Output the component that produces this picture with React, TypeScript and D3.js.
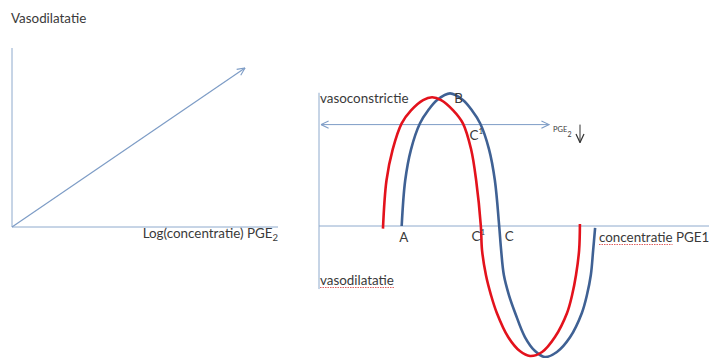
import * as d3 from "d3";
import React, { useEffect, useRef } from "react";

const W = 709;
const H = 358;

// left panel: response vs log(concentration), a straight arrow
const leftLogConc = [0, 0.876];
const leftResponse = [0, 0.888];

// right panel: biphasic response (positive = vasoconstrictie, negative = vasodilatatie)
const redConc = [1.64, 1.73, 1.89, 2.12, 2.36, 2.67, 2.9, 3.13, 3.44, 3.69, 3.9, 4.03, 4.15, 4.18, 4.28, 4.41, 4.56, 4.85, 5.15, 5.41, 5.72, 6.05, 6.36, 6.49, 6.59, 6.67, 6.69];
const redResp = [-0.02, 0.35, 0.59, 0.79, 0.89, 0.969, 0.99, 0.969, 0.89, 0.79, 0.59, 0.35, 0, -0.185, -0.377, -0.531, -0.669, -0.854, -0.962, -1.0, -0.969, -0.854, -0.669, -0.531, -0.377, -0.185, 0.015];
const blueConc = [2.12, 2.21, 2.36, 2.59, 2.8, 3.03, 3.36, 3.69, 3.92, 4.13, 4.36, 4.51, 4.62, 4.67, 4.74, 4.87, 5.03, 5.28, 5.54, 5.79, 6.1, 6.44, 6.74, 6.87, 6.97, 7.03, 7.08];
const blueResp = [0, 0.35, 0.59, 0.79, 0.89, 0.969, 1.02, 0.969, 0.89, 0.79, 0.59, 0.35, 0, -0.185, -0.377, -0.531, -0.669, -0.854, -0.962, -1.008, -0.969, -0.854, -0.669, -0.531, -0.377, -0.185, -0.015];

// horizontal double arrow (PGE2 lowered)
const thresholdLevel = 0.78;
const thresholdEnd = 5.9;

const pointLabels = ["A", "B", "C", "C", "C"];
const pointLabelConc = [2.06, 3.47, 3.86, 3.91, 4.76];
const pointLabelResp = [-0.12, 0.945, 0.66, -0.115, -0.115];
const pointLabelSup = ["", "", "1", "1", ""];

const axisColor = "#8eaacd";
const arrowColor = "#7d9cc6";
const redColor = "#e3121c";
const blueColor = "#3f6194";
const textColor = "#3a3a3a";
const font = "Lato, 'Open Sans', sans-serif";
const fs = 13.4;

export default function App() {
  const svgRef = useRef<SVGSVGElement>(null);

  useEffect(() => {
    const svg = d3.select(svgRef.current);
    svg.selectAll("*").remove();

    const defs = svg.append("defs");
    const addHead = (id: string, color: string, size: number) =>
      defs
        .append("marker")
        .attr("id", id)
        .attr("viewBox", "0 0 10 10")
        .attr("refX", 9.5)
        .attr("refY", 5)
        .attr("markerWidth", size)
        .attr("markerHeight", size)
        .attr("markerUnits", "userSpaceOnUse")
        .attr("orient", "auto-start-reverse")
        .append("path")
        .attr("d", "M1,1 L9.5,5 L1,9")
        .attr("fill", "none")
        .attr("stroke", color)
        .attr("stroke-width", 1.2);
    addHead("headBlue", arrowColor, 9);
    addHead("headDark", "#333", 10);

    // ---------- LEFT PANEL ----------
    const xL = d3.scaleLinear().domain([0, 1]).range([12, 278]);
    const yL = d3.scaleLinear().domain([0, 1]).range([227, 48]);

    svg.append("line")
      .attr("x1", xL(0)).attr("x2", xL(0))
      .attr("y1", yL(0)).attr("y2", yL(1))
      .attr("stroke", axisColor).attr("stroke-width", 1);
    svg.append("line")
      .attr("x1", xL(0)).attr("x2", xL(1))
      .attr("y1", yL(0)).attr("y2", yL(0))
      .attr("stroke", axisColor).attr("stroke-width", 1);

    svg.append("path")
      .datum(d3.range(leftLogConc.length))
      .attr("fill", "none")
      .attr("stroke", arrowColor)
      .attr("stroke-width", 1.2)
      .attr("marker-end", "url(#headBlue)")
      .attr("d", d3.line<number>().x((i) => xL(leftLogConc[i])).y((i) => yL(leftResponse[i])));

    svg.append("text")
      .attr("x", 11).attr("y", 23)
      .attr("font-family", font).attr("font-size", fs)
      .attr("fill", textColor)
      .text("Vasodilatatie");

    const xLab = svg.append("text")
      .attr("x", 278).attr("y", 238)
      .attr("text-anchor", "end")
      .attr("font-family", font).attr("font-size", fs)
      .attr("fill", textColor);
    xLab.append("tspan").text("Log(concentratie) PGE");
    xLab.append("tspan").attr("font-size", 9.5).attr("dy", 3).text("2");

    // ---------- RIGHT PANEL ----------
    const xR = d3.scaleLinear().domain([0, 10]).range([319, 709]);
    const yR = d3.scaleLinear().domain([-1, 1]).range([356, 96]);

    svg.append("line")
      .attr("x1", xR(0)).attr("x2", xR(0))
      .attr("y1", yR(1.025)).attr("y2", yR(-0.485))
      .attr("stroke", axisColor).attr("stroke-width", 1);
    svg.append("line")
      .attr("x1", xR(0)).attr("x2", W)
      .attr("y1", yR(0)).attr("y2", yR(0))
      .attr("stroke", axisColor).attr("stroke-width", 1);

    svg.append("line")
      .attr("x1", xR(0.05)).attr("x2", xR(thresholdEnd))
      .attr("y1", yR(thresholdLevel)).attr("y2", yR(thresholdLevel))
      .attr("stroke", arrowColor).attr("stroke-width", 1)
      .attr("marker-start", "url(#headBlue)")
      .attr("marker-end", "url(#headBlue)");

    const curve = d3.curveCatmullRom.alpha(0.5);
    const drawSeries = (cs: number[], rs: number[], color: string) =>
      svg.append("path")
        .datum(d3.range(cs.length))
        .attr("fill", "none")
        .attr("stroke", color)
        .attr("stroke-width", 2.6)
        .attr("d", d3.line<number>().curve(curve).x((i) => xR(cs[i])).y((i) => yR(rs[i])));
    drawSeries(blueConc, blueResp, blueColor);
    drawSeries(redConc, redResp, redColor);

    pointLabels.forEach((lab, i) => {
      const t = svg.append("text")
        .attr("x", xR(pointLabelConc[i]))
        .attr("y", yR(pointLabelResp[i]))
        .attr("font-family", font).attr("font-size", fs)
        .attr("fill", textColor)
        .text(lab);
      if (pointLabelSup[i]) t.append("tspan").attr("font-size", 8).attr("dy", -6).text(pointLabelSup[i]);
    });

    svg.append("text")
      .attr("x", 320).attr("y", 103)
      .attr("font-family", font).attr("font-size", fs)
      .attr("fill", textColor)
      .text("vasoconstrictie");

    const spell = (x: number, y: number, txt: string) => {
      const t = svg.append("text")
        .attr("x", x).attr("y", y)
        .attr("font-family", font).attr("font-size", fs)
        .attr("fill", textColor);
      const first = t.append("tspan").text(txt.split(" ")[0]);
      if (txt.includes(" ")) t.append("tspan").text(" " + txt.split(" ").slice(1).join(" "));
      const w = (first.node() as SVGTSpanElement).getComputedTextLength();
      svg.append("line")
        .attr("x1", x).attr("x2", x + w)
        .attr("y1", y + 2.5).attr("y2", y + 2.5)
        .attr("stroke", "#e06060").attr("stroke-width", 1)
        .attr("stroke-dasharray", "1.5 1");
    };
    spell(320, 285, "vasodilatatie");
    spell(599, 242, "concentratie PGE1");

    // PGE2 lowered marker
    const pge = svg.append("text")
      .attr("x", xR(thresholdEnd) + 4).attr("y", yR(thresholdLevel) + 7)
      .attr("font-family", font).attr("font-size", 7.5)
      .attr("fill", textColor);
    pge.append("tspan").text("PGE");
    pge.append("tspan").attr("font-size", 7).attr("dy", 5).text("2");
    svg.append("line")
      .attr("x1", 580).attr("x2", 580)
      .attr("y1", yR(thresholdLevel)).attr("y2", yR(thresholdLevel) + 18)
      .attr("stroke", "#333").attr("stroke-width", 1)
      .attr("marker-end", "url(#headDark)");
  }, []);

  return (
    <svg
      ref={svgRef}
      width={W}
      height={H}
      style={{ position: "absolute", left: 0, top: 0, background: "#fff" }}
    />
  );
}
